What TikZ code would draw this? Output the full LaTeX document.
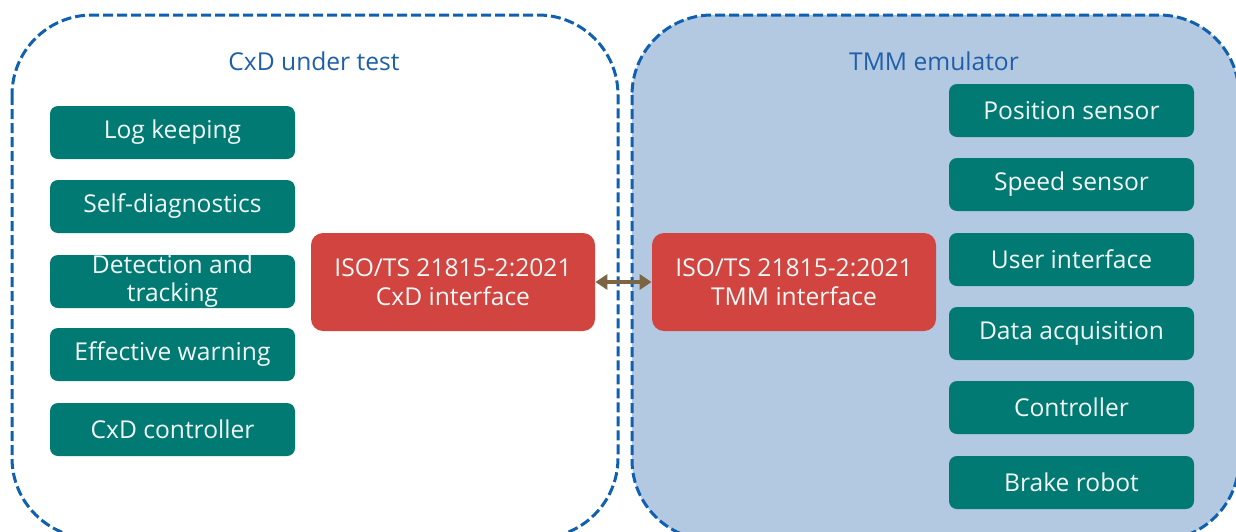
\documentclass[tikz,border=0pt]{standalone}
\usepackage{fontspec}
\setmainfont{Open Sans}
\usetikzlibrary{arrows.meta}
\definecolor{frameblue}{HTML}{1060B2}
\definecolor{titleblue}{HTML}{1F5FA8}
\definecolor{panelfill}{HTML}{B3C9E1}
\definecolor{teal}{HTML}{007A73}
\definecolor{ifred}{HTML}{D1443F}
\definecolor{linkbrown}{HTML}{7B6545}
\definecolor{boxtext}{HTML}{F2F8F6}
\tikzset{
  frame/.style={draw=frameblue, line width=1.5pt, dash pattern=on 5pt off 2pt, rounded corners=40pt},
  funcbox/.style={fill=teal, text=boxtext, rounded corners=4pt, minimum width=122.5pt, minimum height=26.5pt, inner sep=0pt, font=\fontsize{12.3}{14.5}\selectfont, align=center},
  ifbox/.style={fill=ifred, text=boxtext, rounded corners=6pt, minimum width=142pt, minimum height=49pt, inner sep=0pt, font=\fontsize{12.3}{14.5}\selectfont, align=center},
  title/.style={text=titleblue, font=\fontsize{12.3}{14.5}\selectfont},
  link/.style={draw=linkbrown, line width=2pt, {Triangle[length=6pt,width=7.5pt]}-{Triangle[length=6pt,width=7.5pt]}}
}
\begin{document}
\begin{tikzpicture}[x=0.5pt,y=-0.5pt]
\useasboundingbox (0,0) rectangle (1236,531);
\clip (0,0) rectangle (1236,531);
\fill[white] (0,0) rectangle (1236,531);
% system panels
\draw[frame] (12,15) rectangle (618,538);
\draw[frame, fill=panelfill] (632,15) rectangle (1239,540);
\node[title] (t1) at (314,61) {CxD under test};
\node[title] (t2) at (934,61) {TMM emulator};
% CxD functions
\node[funcbox] (l1) at (172.5,132.5) {Log keeping};
\node[funcbox] (l2) at (172.5,206.5) {Self-diagnostics};
\node[funcbox] (l3) at (172.5,281.5) {Detection and\\[-0.5pt]tracking};
\node[funcbox] (l4) at (172.5,354.5) {Effective warning};
\node[funcbox] (l5) at (172.5,429.5) {CxD controller};
% TMM functions
\node[funcbox] (r1) at (1071.5,110.5) {Position sensor};
\node[funcbox] (r2) at (1071.5,184.5) {Speed sensor};
\node[funcbox] (r3) at (1071.5,259.5) {User interface};
\node[funcbox] (r4) at (1071.5,333.5) {Data acquisition};
\node[funcbox] (r5) at (1071.5,407.5) {Controller};
\node[funcbox] (r6) at (1071.5,482.5) {Brake robot};
% interfaces
\node[ifbox] (ci) at (453,282) {ISO/TS 21815-2:2021\\CxD interface};
\node[ifbox] (ti) at (794,282) {ISO/TS 21815-2:2021\\TMM interface};
\draw[link] (ci.east) -- (ti.west);
\end{tikzpicture}
\end{document}
